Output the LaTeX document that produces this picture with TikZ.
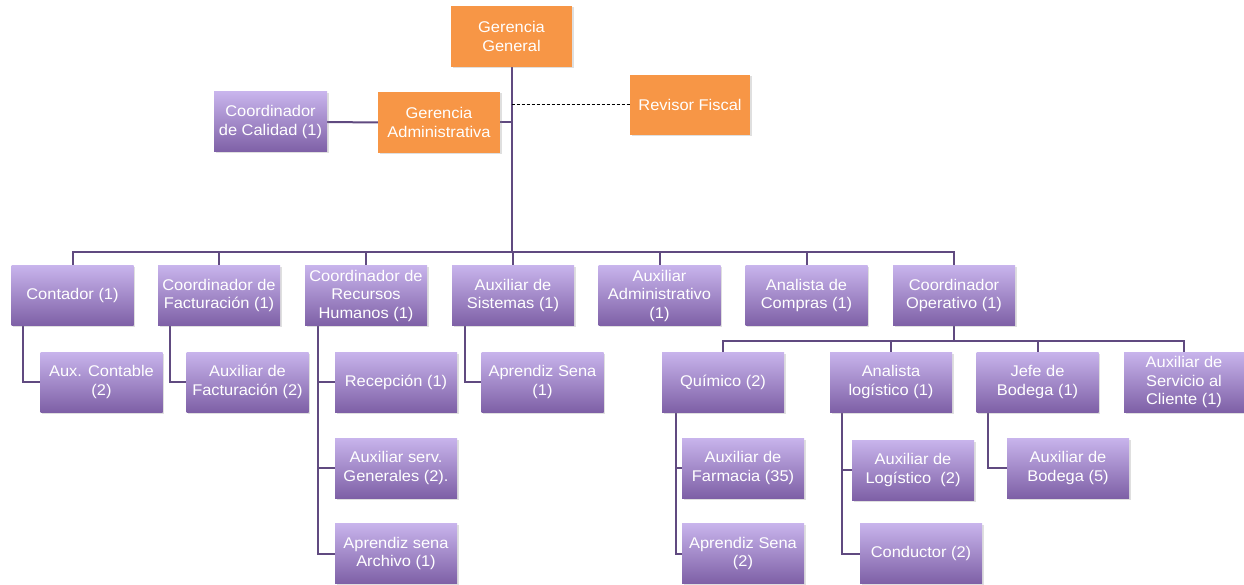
\documentclass[tikz,border=0pt]{standalone}
\usepackage{fontspec}
\setmainfont[FakeStretch=1.06]{Liberation Sans}
\usetikzlibrary{shadows,backgrounds}
\definecolor{orgbox}{RGB}{247,150,70}
\definecolor{purtop}{RGB}{200,180,236}
\definecolor{purbot}{RGB}{126,96,166}
\definecolor{purline}{RGB}{96,74,128}
\tikzset{
  base/.style={rectangle, minimum width=122pt, minimum height=60pt, inner sep=1pt,
    align=center, text=white, font=\fontsize{15.5}{18.5}\selectfont,
    drop shadow={opacity=0.25, shadow xshift=1.5pt, shadow yshift=-1.5pt}},
  obox/.style={base, fill=orgbox},
  pbox/.style={base, top color=purtop, bottom color=purbot},
  conn/.style={draw=purline, line width=2pt},
  dconn/.style={draw=black, line width=1pt, dashed, dash pattern=on 3pt off 2pt}
}
\begin{document}
\begin{tikzpicture}[x=1pt,y=-1pt]
\useasboundingbox (0,0) rectangle (1244,585);
% top
\node[obox, minimum width=121pt, minimum height=61pt] (gg) at (511.5,36.5) {Gerencia\\General};
\node[obox, minimum width=120pt] (rf) at (690,105) {Revisor Fiscal};
\node[obox, minimum height=61pt] (ga) at (439,122.5) {Gerencia\\Administrativa};
\node[pbox, minimum width=113pt] (cc) at (270.5,122) {Coordinador\\de Calidad (1)};
% row 1
\node[pbox] (c1) at (72.5,295.5) {Contador (1)};
\node[pbox] (c2) at (219,295.5) {Coordinador de\\Facturación (1)};
\node[pbox] (c3) at (366,295.5) {Coordinador de\\Recursos\\Humanos (1)};
\node[pbox] (c4) at (513,295.5) {Auxiliar de\\Sistemas (1)};
\node[pbox] (c5) at (659.5,295.5) {Auxiliar\\Administrativo\\(1)};
\node[pbox] (c6) at (806.5,295.5) {Analista de\\Compras (1)};
\node[pbox] (c7) at (954,295.5) {Coordinador\\Operativo (1)};
% row 2
\node[pbox] (ac) at (101.5,382) {Aux. Contable\\(2)};
\node[pbox] (af) at (247.5,382) {Auxiliar de\\Facturación (2)};
\node[pbox] (rec) at (396,382) {Recepción (1)};
\node[pbox] (as) at (542.5,382) {Aprendiz Sena\\(1)};
\node[pbox] (qu) at (723,382) {Químico (2)};
\node[pbox] (al) at (891,382) {Analista\\logístico (1)};
\node[pbox] (jb) at (1037.5,382) {Jefe de\\Bodega (1)};
\node[pbox, minimum width=120pt] (asc) at (1184,382) {Auxiliar de\\Servicio al\\Cliente (1)};
% row 3
\node[pbox] (asg) at (396,468) {Auxiliar serv.\\Generales (2).};
\node[pbox] (afa) at (743,468) {Auxiliar de\\Farmacia (35)};
\node[pbox] (alo) at (913,470) {Auxiliar de\\Logístico~~(2)};
\node[pbox] (abo) at (1068,468) {Auxiliar de\\Bodega (5)};
% row 4
\node[pbox] (aar) at (396,553.5) {Aprendiz sena\\Archivo (1)};
\node[pbox] (aps) at (743,553.5) {Aprendiz Sena\\(2)};
\node[pbox] (con) at (921,553.5) {Conductor (2)};
% connectors
\coordinate (b) at (0,252);
\coordinate (b2) at (0,341);
\begin{pgfonlayer}{background}
\draw[conn] (gg.south) -- (gg.south |- b);
\draw[conn] (ga.east) -- (ga.east -| gg.south);
\draw[conn] (cc.east) -- (ga.west);
\draw[dconn] (rf.west -| gg.south) -- (rf.west);
\draw[conn] (c1.north) -- (c1.north |- b) -- (c7.north |- b) -- (c7.north);
\foreach \n in {c2,c3,c4,c5,c6} \draw[conn] (\n.north) -- (\n.north |- b);
\draw[conn] ([xshift=12pt]c1.south west) |- (ac.west);
\draw[conn] ([xshift=12pt]c2.south west) |- (af.west);
\draw[conn] ([xshift=13pt]c3.south west) |- (aar.west);
\draw[conn] ([xshift=13pt]c3.south west) |- (rec.west);
\draw[conn] ([xshift=13pt]c3.south west) |- (asg.west);
\draw[conn] ([xshift=13pt]c4.south west) |- (as.west);
\draw[conn] (c7.south) -- (c7.south |- b2);
\draw[conn] (qu.north) -- (qu.north |- b2) -- (asc.north |- b2) -- (asc.north);
\foreach \n in {al,jb} \draw[conn] (\n.north) -- (\n.north |- b2);
\draw[conn] ([xshift=14pt]qu.south west) |- (aps.west);
\draw[conn] ([xshift=14pt]qu.south west) |- (afa.west);
\draw[conn] ([xshift=12pt]al.south west) |- (con.west);
\draw[conn] ([xshift=12pt]al.south west) |- (alo.west);
\draw[conn] ([xshift=12pt]jb.south west) |- (abo.west);
\end{pgfonlayer}
\end{tikzpicture}
\end{document}
